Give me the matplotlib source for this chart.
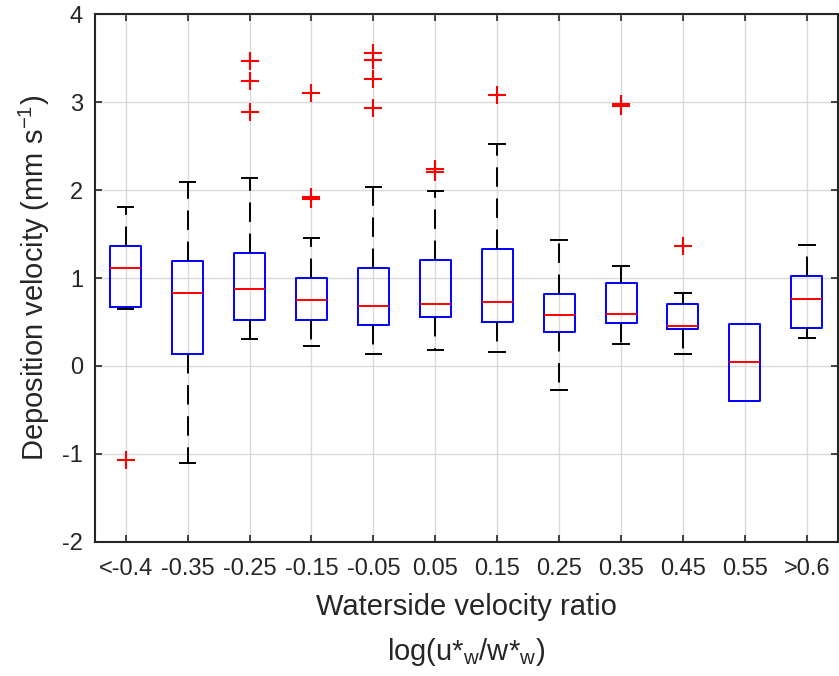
import matplotlib
matplotlib.use("Agg")
import matplotlib.pyplot as plt

plt.rcParams['font.family'] = ['Liberation Sans', 'DejaVu Sans']
plt.rcParams['mathtext.default'] = 'regular'
plt.rcParams['axes.unicode_minus'] = False

# bins of log(u*w/w*w)
labels = ['<-0.4', '-0.35', '-0.25', '-0.15', '-0.05', '0.05', '0.15',
          '0.25', '0.35', '0.45', '0.55', '>0.6']

# box statistics per bin (mm/s)
q1 = [0.67, 0.14, 0.52, 0.52, 0.47, 0.56, 0.50, 0.39, 0.49, 0.42, -0.40, 0.43]
med = [1.11, 0.83, 0.87, 0.755, 0.68, 0.705, 0.725, 0.58, 0.59, 0.455, 0.04, 0.76]
q3 = [1.36, 1.19, 1.28, 1.00, 1.11, 1.20, 1.335, 0.82, 0.94, 0.70, 0.475, 1.02]
wlo = [0.65, -1.11, 0.31, 0.23, 0.14, 0.185, 0.16, -0.27, 0.25, 0.14, -0.40, 0.32]
whi = [1.81, 2.09, 2.14, 1.455, 2.04, 1.99, 2.52, 1.435, 1.135, 0.83, 0.475, 1.38]
outliers = [
    [-1.07],
    [],
    [3.47, 3.245, 2.885],
    [3.105, 1.925, 1.895],
    [3.565, 3.475, 3.265, 2.93],
    [2.245, 2.21],
    [3.085],
    [],
    [2.98, 2.96],
    [1.365],
    [],
    [],
]

stats = []
for i in range(len(labels)):
    stats.append(dict(label=labels[i], q1=q1[i], med=med[i], q3=q3[i],
                      whislo=wlo[i], whishi=whi[i], fliers=outliers[i]))

fig = plt.figure(figsize=(8.39, 6.76), dpi=100)
ax = fig.add_axes([0.1129, 0.1987, 0.8856, 0.7801])

# no caps where the whiskers collapse onto the box
caps = [0.25 if wlo[i] < q1[i] or whi[i] > q3[i] else 0.0 for i in range(len(labels))]

ax.bxp(stats, positions=range(1, len(labels) + 1), widths=0.5, capwidths=caps,
       boxprops=dict(color='#0000ff', linewidth=1.4),
       medianprops=dict(color='#ff0000', linewidth=1.4),
       whiskerprops=dict(color='black', linewidth=1.4, linestyle=(0, (10, 6))),
       capprops=dict(color='black', linewidth=1.4),
       flierprops=dict(marker='+', markeredgecolor='#ff0000', markersize=13.5,
                       markeredgewidth=1.5, linestyle='none'))

ax.set_xlim(0.5, 12.5)
ax.set_ylim(-2, 4)
ax.set_yticks(range(-2, 5))
ax.set_xticks(range(1, len(labels) + 1))
ax.set_xticklabels(labels)
ax.grid(True, color='#dadada', linewidth=1.0)
ax.set_axisbelow(True)

for s in ax.spines.values():
    s.set_linewidth(1.5)
    s.set_color('#262626')
ax.tick_params(direction='in', length=5, width=1.2, top=True, right=True,
               labelsize=17, colors='#262626')
ax.tick_params(axis='x', pad=12)
ax.tick_params(axis='y', pad=8.5)

ax.set_ylabel('Deposition velocity (mm s$^{-1}$)', fontsize=21, color='#262626')
ax.yaxis.set_label_coords(-0.0575, 0.5)
ax.set_xlabel('Waterside velocity ratio', fontsize=21, color='#262626')
ax.xaxis.set_label_coords(0.5, -0.097)
ax.text(0.5, -0.2243, 'log(u*$_{w}$/w*$_{w}$)', transform=ax.transAxes,
        ha='center', va='baseline', fontsize=21, color='#262626')

fig.savefig('out.png', dpi=100)
